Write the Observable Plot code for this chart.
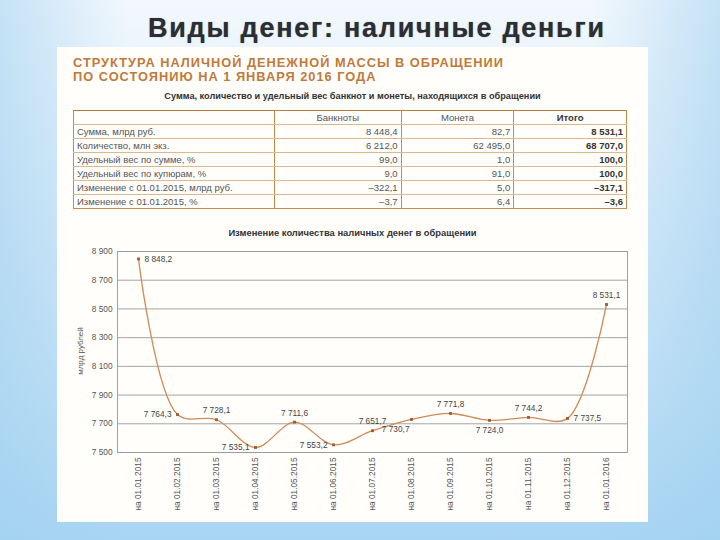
<!DOCTYPE html>
<html><head><meta charset="utf-8">
<script src="https://cdn.jsdelivr.net/npm/d3@7"></script>
<script src="https://cdn.jsdelivr.net/npm/@observablehq/plot@0.6"></script>
<style>
html,body{margin:0;padding:0;}
body{width:720px;height:540px;overflow:hidden;position:relative;font-family:"Liberation Sans",Arial,sans-serif;
 background:
  linear-gradient(to right, rgba(160,208,240,0.55) 0%, rgba(255,255,255,0) 18%, rgba(255,255,255,0) 82%, rgba(160,208,240,0.55) 100%),
  linear-gradient(to bottom, #f2f8fd 0%, #dcedf9 35%, #c4e2f6 70%, #a8d5f2 100%);}
#title{position:absolute;left:148px;top:12px;white-space:nowrap;font:bold 27px "Liberation Sans",Arial,sans-serif;color:#2b2e32;letter-spacing:1.75px;text-shadow:0 0 1px #777;line-height:32px;}
#panel{position:absolute;left:57px;top:47px;width:591px;height:475px;background:#fffefb;}
#head{position:absolute;left:16px;top:9px;font:bold 12.8px "Liberation Sans",Arial,sans-serif;color:#c07a3a;line-height:14px;letter-spacing:1.0px;white-space:nowrap;}
#cap{position:absolute;left:0;width:591px;top:44px;text-align:center;font:bold 9.2px "Liberation Sans",Arial,sans-serif;color:#333;white-space:nowrap;}
#tbl{position:absolute;left:16px;top:63px;width:554px;border-collapse:collapse;font:9.5px "Liberation Sans",Arial,sans-serif;color:#555;}
#tbl td{height:13px;padding:0 3px;border-top:1px solid #dcb88f;border-bottom:1px solid #dcb88f;border-left:1.5px solid #c8894c;border-right:1.5px solid #c8894c;text-align:right;line-height:13px;white-space:nowrap;}
#tbl tr:first-child td{border-top:1.5px solid #b97a3e;text-align:center;}
#tbl tr:last-child td{border-bottom:1.5px solid #c8894c;}
#tbl td:first-child{text-align:left;width:194px;}
#tbl td.tot{font-weight:bold;color:#333;}
#ctitle{position:absolute;left:0;width:591px;top:180px;text-align:center;font:bold 9.4px "Liberation Sans",Arial,sans-serif;color:#333;white-space:nowrap;}
#chart{position:absolute;left:0;top:193px;}
#ylab{position:absolute;left:23px;top:304px;width:0;height:0;}
#ylab span{position:absolute;transform:translate(-50%,-50%) rotate(-90deg);white-space:nowrap;font:8px "Liberation Sans",Arial,sans-serif;color:#555;}
</style></head>
<body>
<div id="title">Виды денег: наличные деньги</div>
<div id="panel">
  <div id="head">СТРУКТУРА НАЛИЧНОЙ ДЕНЕЖНОЙ МАССЫ В ОБРАЩЕНИИ<br>ПО СОСТОЯНИЮ НА 1 ЯНВАРЯ 2016 ГОДА</div>
  <div id="cap">Сумма, количество и удельный вес банкнот и монеты, находящихся в обращении</div>
  <table id="tbl"></table>
  <div id="ctitle">Изменение количества наличных денег в обращении</div>
  <div id="chart"></div>
  <div id="ylab"><span>млрд рублей</span></div>
</div>
<script>
// ---- table data ----
const tableHeader = ["", "Банкноты", "Монета", "Итого"];
const tableRows = ["Сумма, млрд руб.", "Количество, млн экз.", "Удельный вес по сумме, %", "Удельный вес по купюрам, %", "Изменение с 01.01.2015, млрд руб.", "Изменение с 01.01.2015, %"];
const banknotes = [8448.4, 6212.0, 99.0, 9.0, -322.1, -3.7];
const coins = [82.7, 62495.0, 1.0, 91.0, 5.0, 6.4];
const totals = [8531.1, 68707.0, 100.0, 100.0, -317.1, -3.6];

// ---- chart data ----
const dates = ["на 01.01.2015","на 01.02.2015","на 01.03.2015","на 01.04.2015","на 01.05.2015","на 01.06.2015","на 01.07.2015","на 01.08.2015","на 01.09.2015","на 01.10.2015","на 01.11.2015","на 01.12.2015","на 01.01.2016"];
const cash = [8848.2, 7764.3, 7728.1, 7535.1, 7711.6, 7553.2, 7651.7, 7730.7, 7771.8, 7724.0, 7744.2, 7737.5, 8531.1];
const yTicks = [7500, 7700, 7900, 8100, 8300, 8500, 8700, 8900];
// label placement for each value (style only)
const labelPlace = ["right","left","top","left","top","left","top","bottomleft","top","bottom","top","right","top"];

const loc = d3.formatLocale({decimal: ",", thousands: " ", grouping: [3], currency: ["", ""], minus: "–"});
const f1 = loc.format(",.1f");
const f0 = loc.format(",d");

// build table
const tbl = document.getElementById("tbl");
let html = "<tr>" + tableHeader.map((h,i)=>`<td${i===3?' class="tot"':''}>${h}</td>`).join("") + "</tr>";
tableRows.forEach((r,i)=>{
  html += `<tr><td>${r}</td><td>${f1(banknotes[i])}</td><td>${f1(coins[i])}</td><td class="tot">${f1(totals[i])}</td></tr>`;
});
tbl.innerHTML = html;

const data = dates.map((d,i)=>({date:d, value:cash[i], place:labelPlace[i]}));
const byPlace = p => data.filter(d=>d.place===p);

const chart = Plot.plot({
  width: 591, height: 282,
  marginLeft: 60, marginRight: 21, marginTop: 11, marginBottom: 70,
  style: {fontFamily: "Liberation Sans, Arial, sans-serif", fontSize: "8.3px", color: "#555", background: "transparent"},
  x: {type: "point", domain: dates, padding: 0.5},
  y: {domain: [7500, 8900]},
  marks: [
    Plot.gridY(yTicks, {stroke: "#9a9a9a", strokeOpacity: 1, strokeWidth: 0.9}),
    Plot.frame({stroke: "#9a9a9a", strokeWidth: 0.9}),
    Plot.axisY(yTicks, {tickSize: 0, tickPadding: 5, tickFormat: f0, label: null, fill: "#555"}),
    Plot.axisX({tickSize: 0, tickPadding: 5, tickRotate: -90, label: null, fill: "#555"}),
    Plot.line(data, {x: "date", y: "value", curve: "catmull-rom", stroke: "#cf8a55", strokeWidth: 1.3}),
    Plot.dot(data, {x: "date", y: "value", symbol: "square", r: 1.6, fill: "#9c5a2c"}),
    Plot.text(byPlace("right"), {x: "date", y: "value", text: d=>f1(d.value), textAnchor: "start", dx: 6, fill: "#444"}),
    Plot.text(byPlace("left"), {x: "date", y: "value", text: d=>f1(d.value), textAnchor: "end", dx: -6, fill: "#444"}),
    Plot.text(byPlace("top"), {x: "date", y: "value", text: d=>f1(d.value), dy: -9, fill: "#444"}),
    Plot.text(byPlace("bottom"), {x: "date", y: "value", text: d=>f1(d.value), dy: 10, fill: "#444"}),
    Plot.text(byPlace("bottomleft"), {x: "date", y: "value", text: d=>f1(d.value), textAnchor: "end", dx: -2, dy: 10, fill: "#444"})
  ]
});
document.getElementById("chart").appendChild(chart);
</script>
</body></html>
